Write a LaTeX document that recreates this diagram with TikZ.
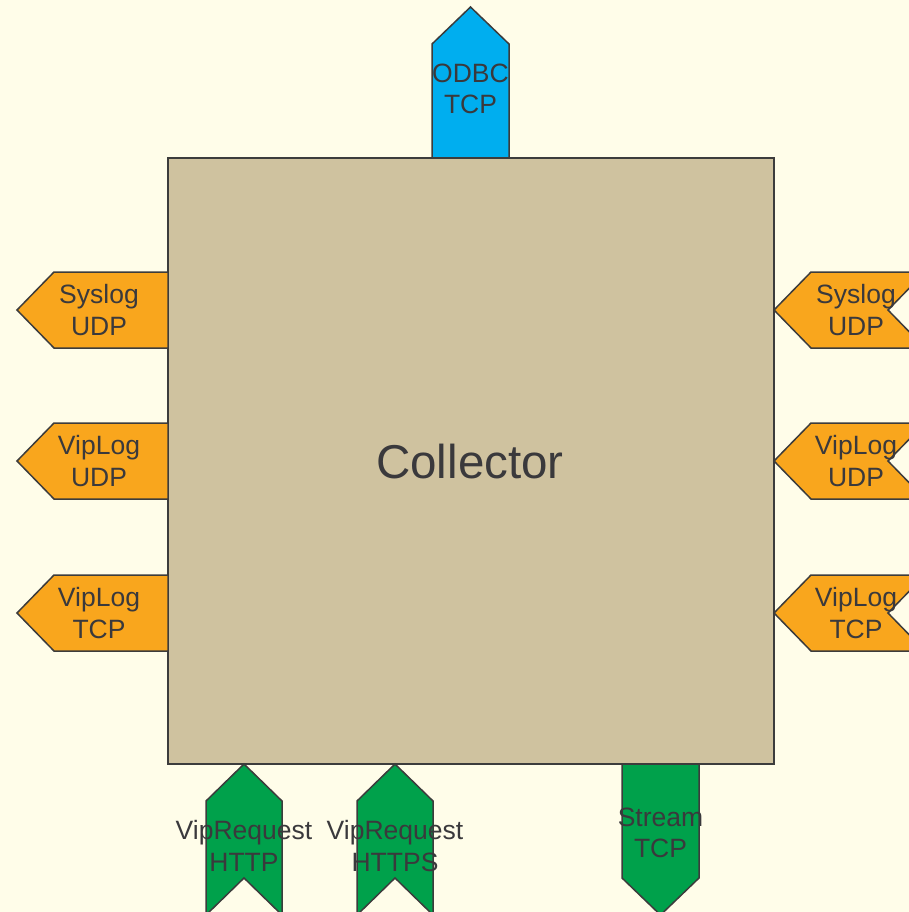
\documentclass[tikz,border=0pt]{standalone}
\usepackage{fontspec}
\setmainfont{Liberation Sans}
\definecolor{paper}{HTML}{FFFDE9}
\definecolor{boxfill}{HTML}{CFC29F}
\definecolor{edge}{HTML}{3C3C3C}
\definecolor{ink}{HTML}{3A393C}
\definecolor{udporange}{HTML}{F9A61D}
\definecolor{odbcblue}{HTML}{00AEEF}
\definecolor{reqgreen}{HTML}{00A14B}
\tikzset{
  port/.style={draw=edge, line width=1.5pt, line join=miter},
  portlabel/.style={text=ink, align=center, inner sep=0pt,
    font=\fontsize{26.5}{31.5}\selectfont},
}
\begin{document}
\begin{tikzpicture}[x=1pt, y=-1pt]
  % page and clip
  \useasboundingbox (0,0) rectangle (909,912);
  \clip (0,0) rectangle (909,912);
  \fill[paper] (0,0) rectangle (909,912);

  % central collector block
  \draw[port, fill=boxfill] (168,158) rectangle (774,764);
  \node[text=ink, inner sep=0pt, font=\fontsize{47.5}{54}\selectfont] (collector) at (470,462) {Collector};

  % ODBC output on top
  \draw[port, fill=odbcblue] (432,158) -- (432,44) -- (470.5,7) -- (509,44) -- (509,158) -- cycle;
  \node[portlabel] (odbc) at (470.5,89) {ODBC\\TCP};

  % outputs on the left side
  \foreach \yc/\top/\bot/\nm in {310/Syslog/UDP/lsys, 461/VipLog/UDP/lvudp, 613/VipLog/TCP/lvtcp}{
    \draw[port, fill=udporange] (168,\yc-38) -- (54,\yc-38) -- (17,\yc) -- (54,\yc+38) -- (168,\yc+38) -- cycle;
    \node[portlabel] (\nm) at (99,\yc) {\top\\\bot};
  }

  % inputs on the right side
  \foreach \yc/\top/\bot/\nm in {310/Syslog/UDP/rsys, 461/VipLog/UDP/rvudp, 613/VipLog/TCP/rvtcp}{
    \draw[port, fill=udporange] (774,\yc) -- (811,\yc-38) -- (925,\yc-38) -- (888,\yc) -- (925,\yc+38) -- (811,\yc+38) -- cycle;
    \node[portlabel] (\nm) at (856,\yc) {\top\\\bot};
  }

  % request inputs at the bottom
  \foreach \xc/\bot/\nm in {244/HTTP/vrhttp, 395/HTTPS/vrhttps}{
    \draw[port, fill=reqgreen] (\xc,764) -- (\xc+38,801) -- (\xc+38,915) -- (\xc,878) -- (\xc-38,915) -- (\xc-38,801) -- cycle;
    \node[portlabel] (\nm) at (\xc,846) {VipRequest\\\bot};
  }

  % stream output at the bottom
  \draw[port, fill=reqgreen] (622,764) -- (699,764) -- (699,878) -- (660.5,915) -- (622,878) -- cycle;
  \node[portlabel] (stream) at (660.5,833) {Stream\\TCP};
\end{tikzpicture}
\end{document}
